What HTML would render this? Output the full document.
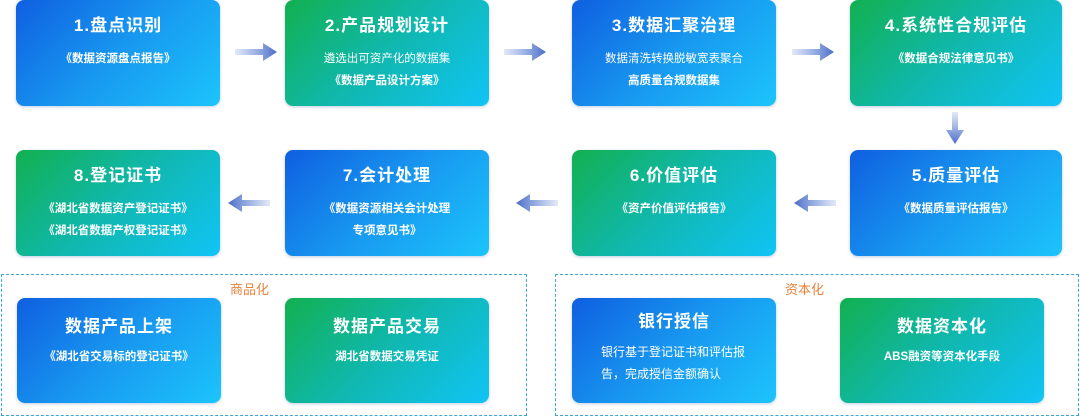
<!DOCTYPE html>
<html><head><meta charset="utf-8"><style>
body{margin:0;width:1080px;height:417px;background:#fff;position:relative;overflow:hidden;font-family:"Liberation Sans","Noto Sans CJK SC",sans-serif;}
.b{position:absolute;width:204px;height:106px;border-radius:8px;color:#fff;text-align:center;box-shadow:0 1px 3px rgba(0,60,140,.25);}
.bl{background:linear-gradient(135deg,#0f5fe0 0%,#1898f0 50%,#1cc4fb 100%);}
.gr{background:linear-gradient(135deg,#12b050 0%,#10b8b0 50%,#10c4f6 100%);}
.t{font-size:17px;font-weight:bold;margin-top:14px;line-height:24px;letter-spacing:1px;}
.s{font-size:11.5px;line-height:22px;margin-top:10px;}
.sb{font-weight:bold;}
.f{position:absolute;border:1px dashed #3aa6dc;}
.lab{position:absolute;color:#e8823a;font-size:13px;}
svg{position:absolute;left:0;top:0}
</style></head><body>
<div class="b bl" style="left:16px;top:0"><div class="t">1.盘点识别</div><div class="s sb">《数据资源盘点报告》</div></div>
<div class="b gr" style="left:285px;top:0"><div class="t">2.产品规划设计</div><div class="s">遴选出可资产化的数据集<br><span class="sb">《数据产品设计方案》</span></div></div>
<div class="b bl" style="left:572px;top:0"><div class="t">3.数据汇聚治理</div><div class="s">数据清洗转换脱敏宽表聚合<br><span class="sb">高质量合规数据集</span></div></div>
<div class="b gr" style="left:850px;top:0;width:212px"><div class="t">4.系统性合规评估</div><div class="s sb">《数据合规法律意见书》</div></div>
<div class="b gr" style="left:16px;top:150px"><div class="t">8.登记证书</div><div class="s sb">《湖北省数据资产登记证书》<br>《湖北省数据产权登记证书》</div></div>
<div class="b bl" style="left:285px;top:150px"><div class="t">7.会计处理</div><div class="s sb">《数据资源相关会计处理<br>专项意见书》</div></div>
<div class="b gr" style="left:572px;top:150px"><div class="t">6.价值评估</div><div class="s sb">《资产价值评估报告》</div></div>
<div class="b bl" style="left:850px;top:150px;width:212px"><div class="t">5.质量评估</div><div class="s sb">《数据质量评估报告》</div></div>
<div class="f" style="left:1px;top:274px;width:524px;height:140px"></div>
<div class="f" style="left:555px;top:274px;width:522px;height:140px"></div>
<div class="lab" style="left:230px;top:279px">商品化</div>
<div class="lab" style="left:785px;top:279px">资本化</div>
<div class="b bl" style="left:17px;top:298px;height:105px"><div class="t" style="margin-top:17px">数据产品上架</div><div class="s sb" style="margin-top:7px">《湖北省交易标的登记证书》</div></div>
<div class="b gr" style="left:285px;top:298px;height:105px"><div class="t" style="margin-top:17px">数据产品交易</div><div class="s sb" style="margin-top:7px">湖北省数据交易凭证</div></div>
<div class="b bl" style="left:572px;top:298px;height:105px"><div class="t" style="margin-top:12px">银行授信</div><div class="s" style="text-align:left;padding:0 28px 0 29px;margin-top:7px;font-size:12px">银行基于登记证书和评估报告，完成授信金额确认</div></div>
<div class="b gr" style="left:840px;top:298px;height:105px"><div class="t" style="margin-top:17px">数据资本化</div><div class="s sb" style="margin-top:7px">ABS融资等资本化手段</div></div>
<svg width="1080" height="417">
<defs>
<linearGradient id="ar" x1="0" x2="1"><stop offset="0" stop-color="#6a8fd8" stop-opacity=".2"/><stop offset="1" stop-color="#4a6cc8"/></linearGradient>
<linearGradient id="al" x1="1" x2="0"><stop offset="0" stop-color="#6a8fd8" stop-opacity=".2"/><stop offset="1" stop-color="#4a6cc8"/></linearGradient>
<linearGradient id="ad" x1="0" x2="0" y1="0" y2="1"><stop offset="0" stop-color="#6a8fd8" stop-opacity=".2"/><stop offset="1" stop-color="#4a6cc8"/></linearGradient>
</defs>
<g fill="url(#ar)"><path d="M235 49h28v-6l14 9-14 9v-6h-28z"/><path d="M504 49h28v-6l14 9-14 9v-6h-28z"/><path d="M792 49h28v-6l14 9-14 9v-6h-28z"/></g>
<g fill="url(#al)"><path d="M270 200h-28v-6l-14 9 14 9v-6h28z"/><path d="M558 200h-28v-6l-14 9 14 9v-6h28z"/><path d="M836 200h-28v-6l-14 9 14 9v-6h28z"/></g>
<path fill="url(#ad)" d="M952 112v18h-6l9 14 9-14h-6v-18z"/>
</svg>
</body></html>
